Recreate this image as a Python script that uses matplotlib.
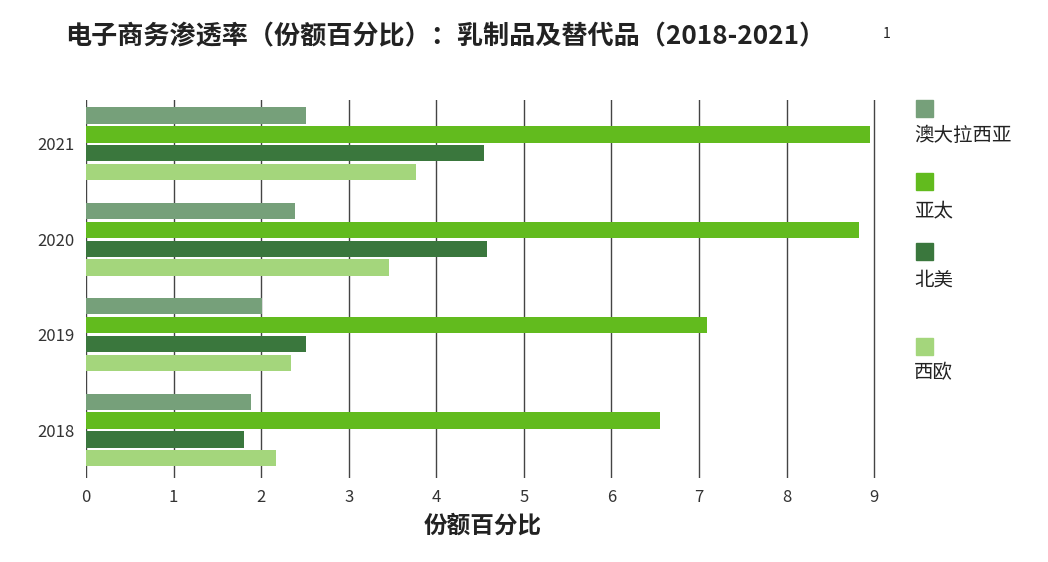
import matplotlib
matplotlib.use("Agg")
import matplotlib.pyplot as plt
import numpy as np

plt.rcParams['font.family'] = ['Noto Sans CJK SC', 'DejaVu Sans']

years = ["2018", "2019", "2020", "2021"]
series = ["澳大拉西亚", "亚太", "北美", "西欧"]
aus = [1.89, 2.01, 2.39, 2.51]
apac = [6.56, 7.09, 8.83, 8.95]
na = [1.80, 2.51, 4.58, 4.55]
we = [2.17, 2.34, 3.46, 3.77]
colors = ["#76a07a", "#62bb1e", "#3a773d", "#a4d67c"]

fig = plt.figure(figsize=(10.48, 5.62), dpi=100)
ax = fig.add_axes([0.082, 0.15, 0.758, 0.672])
y = np.arange(len(years))
pitch = 0.198
h = 0.17
for i, vals in enumerate([aus, apac, na, we]):
    ax.barh(y + (1.5 - i) * pitch, vals, height=h, color=colors[i], zorder=3)
ax.set_xlim(0, 9.07)
ax.set_ylim(-0.5, 3.46)
ax.set_yticks(y)
ax.set_yticklabels(years, fontsize=12, color="#333333")
ax.set_xticks(range(10))
ax.set_xticklabels([str(i) for i in range(10)], fontsize=12, color="#333333")
ax.grid(axis='x', color="#444444", linewidth=1, zorder=0)
for s in ax.spines.values():
    s.set_visible(False)
ax.tick_params(length=0, pad=8)
ax.set_xlabel("份额百分比", fontsize=17, fontweight='bold', color="#222222", labelpad=6)

fig.text(0.062, 0.935, "电子商务渗透率（份额百分比）：乳制品及替代品（2018-2021）", fontsize=18.8,
         fontweight='bold', color="#222222", va='center')
fig.text(0.842, 0.94, "1", fontsize=10, color="#222222", va='center')

sq = [(100, 135), (173, 211), (243, 280), (338, 373)]
for (ys, yl), name, c in zip(sq, series, colors):
    fig.patches.append(plt.Rectangle((916 / 1048, 1 - (ys + 17) / 562), 17 / 1048, 17 / 562,
                                     transform=fig.transFigure, color=c))
    fig.text(914 / 1048, 1 - yl / 562, name, fontsize=14, color="#222222", va='center')

fig.savefig("out.png", dpi=100)
